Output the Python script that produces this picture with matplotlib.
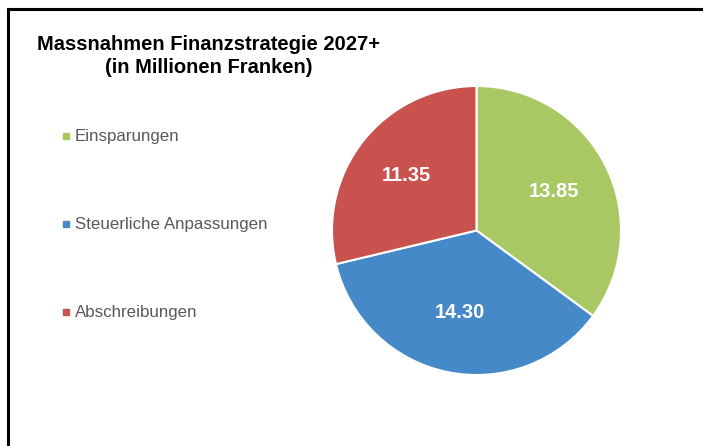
import matplotlib
matplotlib.use("Agg")
import matplotlib.pyplot as plt
from matplotlib.lines import Line2D
import numpy as np

categories = ["Einsparungen", "Steuerliche Anpassungen", "Abschreibungen"]
values = [13.85, 14.30, 11.35]
value_labels = ["13.85", "14.30", "11.35"]
colors = ["#A9C864", "#4589C8", "#C9524F"]
title_lines = ["Massnahmen Finanzstrategie 2027+", "(in Millionen Franken)"]

W, H = 703, 446
fig = plt.figure(figsize=(W / 100, H / 100), dpi=100)
fig.patch.set_facecolor("white")

# pie axes: center (476.5, 230.5), radius 144.5
cx, cy, r = 476.5, 230.5, 144.5
ax = fig.add_axes([(cx - r) / W, 1 - (cy + r) / H, 2 * r / W, 2 * r / H])
wedges, _ = ax.pie(values, colors=colors, startangle=90, counterclock=False,
                   wedgeprops=dict(edgecolor="white", linewidth=1.5))
ax.set_xlim(-1, 1)
ax.set_ylim(-1, 1)
ax.set_aspect("equal")

dists = [0.60, 0.58, 0.62]
for w, lab, d in zip(wedges, value_labels, dists):
    ang = np.deg2rad((w.theta1 + w.theta2) / 2)
    ax.text(d * np.cos(ang), d * np.sin(ang), lab, ha="center", va="center",
            color="white", fontsize=14.5, fontweight="bold", family="Liberation Sans")

# border (top and left)
fig.add_artist(Line2D([8 / W, 1], [1 - 9 / H, 1 - 9 / H], color="black", lw=2.2,
                      transform=fig.transFigure))
fig.add_artist(Line2D([8 / W, 8 / W], [0, 1 - 9 / H], color="black", lw=2.2,
                      transform=fig.transFigure))

for line, yb in zip(title_lines, [50, 73]):
    fig.text(209 / W, 1 - yb / H, line, ha="center", va="baseline", fontsize=14.5,
             fontweight="bold", family="Liberation Sans", color="black")

ys = [136, 224, 312]
for cat, col, y in zip(categories, colors, ys):
    fig.patches.append(plt.Rectangle((63 / W, 1 - (y + 3) / H), 6 / W, 6 / H,
                                     transform=fig.transFigure, color=col))
    fig.text(75 / W, 1 - y / H, cat, ha="left", va="center", fontsize=12.2,
             family="Liberation Sans", color="#595959")

fig.savefig("out.png", dpi=100)
